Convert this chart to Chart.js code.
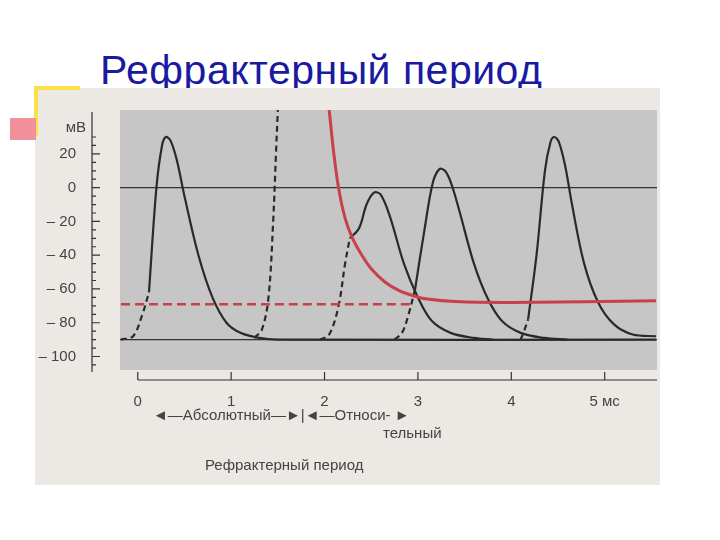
<!DOCTYPE html>
<html><head><meta charset="utf-8">
<script src="https://cdn.jsdelivr.net/npm/chart.js@4"></script>
<style>
body{margin:0;background:#fff;width:720px;height:540px;overflow:hidden;font-family:"Liberation Sans",Arial,sans-serif}
#title{position:absolute;left:100px;top:50px;font-size:41px;color:#1a1aa0;font-family:"Liberation Sans",Arial,sans-serif;line-height:1;letter-spacing:0.5px}
#wrap{position:absolute;left:0;top:0;width:720px;height:540px;z-index:2}
.lbl{position:absolute;font-size:15px;color:#444;font-family:"Liberation Sans",Arial,sans-serif;z-index:3}
</style></head><body>
<div id="title">Рефрактерный период</div>
<div id="wrap"><canvas id="c" width="720" height="540"></canvas></div>
<div class="lbl" style="left:153px;top:406px">◄—Абсолютный—►|◄—Относи- ►</div>
<div class="lbl" style="left:383px;top:424px">тельный</div>
<div class="lbl" style="left:205px;top:456px">Рефрактерный период</div>
<script>
const xTicks=[0,1,2,3,4,5];
const yTicks=[-100,-80,-60,-40,-20,0,20];
const ap1Rise=[{x:-0.18,y:-90},{x:-0.05,y:-88},{x:0.05,y:-75},{x:0.12,y:-62}];
const ap1=[{x:0.12,y:-62},{x:0.2,y:0},{x:0.26,y:25},{x:0.3,y:30},{x:0.35,y:28},{x:0.42,y:16},{x:0.5,y:-5},{x:0.65,y:-40},{x:0.8,y:-65},{x:0.95,y:-80},{x:1.1,y:-86},{x:1.3,y:-89},{x:1.5,y:-90},{x:5.55,y:-90}];
const stim=[{x:1.25,y:-89},{x:1.33,y:-84},{x:1.4,y:-65},{x:1.45,y:-20},{x:1.48,y:20},{x:1.5,y:46}];
const ap2Rise=[{x:1.95,y:-90},{x:2.05,y:-87},{x:2.15,y:-70},{x:2.22,y:-45},{x:2.27,y:-30}];
const ap2=[{x:2.27,y:-30},{x:2.37,y:-24},{x:2.45,y:-10},{x:2.53,y:-3},{x:2.6,y:-4},{x:2.7,y:-17},{x:2.85,y:-45},{x:3.0,y:-65},{x:3.15,y:-79},{x:3.35,y:-86},{x:3.6,y:-89},{x:3.8,y:-90}];
const ap3Rise=[{x:2.75,y:-90},{x:2.83,y:-86},{x:2.9,y:-75},{x:2.97,y:-60}];
const ap3=[{x:2.97,y:-60},{x:3.07,y:-25},{x:3.16,y:3},{x:3.23,y:11},{x:3.29,y:10},{x:3.36,y:2},{x:3.45,y:-15},{x:3.6,y:-45},{x:3.75,y:-66},{x:3.9,y:-79},{x:4.1,y:-86},{x:4.35,y:-89},{x:4.6,y:-90}];
const ap4Rise=[{x:4.1,y:-90},{x:4.13,y:-86},{x:4.18,y:-78}];
const ap4=[{x:4.18,y:-78},{x:4.27,y:-40},{x:4.36,y:10},{x:4.42,y:27},{x:4.46,y:30},{x:4.51,y:27},{x:4.58,y:12},{x:4.65,y:-10},{x:4.78,y:-45},{x:4.93,y:-68},{x:5.1,y:-81},{x:5.3,y:-87},{x:5.55,y:-88}];
const thrDash=[{x:-0.18,y:-69},{x:2.95,y:-69}];
const thr=[{x:2.05,y:46},{x:2.1,y:20},{x:2.15,y:0},{x:2.22,y:-18},{x:2.3,y:-30},{x:2.4,y:-40},{x:2.5,y:-48},{x:2.65,y:-56},{x:2.8,y:-61},{x:2.95,y:-64},{x:3.1,y:-66},{x:3.4,y:-67.5},{x:4.0,y:-68},{x:5.55,y:-67}];
const K='#2a2a2a',R='#c8404a';
function ds(d,c,w,dash){return {data:d,borderColor:c,borderWidth:w,borderDash:dash||[],pointRadius:0,tension:0.35,fill:false};}
const bg={id:'bg',beforeDraw(ch){const c=ch.ctx,a=ch.chartArea;c.save();
c.fillStyle='#ece8e4';c.fillRect(35,88,625,397);
c.fillStyle='#fbe04a';c.fillRect(34,86,4,50);c.fillRect(34,86,46,4);
c.fillStyle='#f0909a';c.fillRect(10,118,26,22);
c.fillStyle='#c6c6c6';c.fillRect(a.left,a.top,a.right-a.left,a.bottom-a.top);
const xs=ch.scales.x,ys=ch.scales.y;c.strokeStyle='#333';c.lineWidth=1.2;
c.beginPath();c.moveTo(a.left,ys.getPixelForValue(0));c.lineTo(a.right,ys.getPixelForValue(0));
c.moveTo(a.left,ys.getPixelForValue(-90));c.lineTo(a.right,ys.getPixelForValue(-90));c.stroke();
c.beginPath();c.moveTo(138,380);c.lineTo(657,380);
xTicks.forEach(v=>{const p=xs.getPixelForValue(v);c.moveTo(p,372);c.lineTo(p,380);});
c.moveTo(92,112);c.lineTo(92,372);
for(let v=-105;v<=30;v+=5){const p=ys.getPixelForValue(v);c.moveTo(92,p);c.lineTo(v%20===0?100:96,p);}
c.stroke();
c.fillStyle='#444';c.font='15px "Liberation Sans",Arial';c.textAlign='right';c.fillText('мВ',86,132);
c.restore();}};
new Chart(document.getElementById('c'),{type:'line',
data:{datasets:[ds(thrDash,R,2.5,[9,5]),ds(thr,R,3),ds(ap1Rise,K,2.2,[6,4]),ds(ap1,K,2.2),ds(stim,K,2.2,[6,4]),ds(ap2Rise,K,2.2,[6,4]),ds(ap2,K,2.2),ds(ap3Rise,K,2.2,[6,4]),ds(ap3,K,2.2),ds(ap4Rise,K,2.2,[6,4]),ds(ap4,K,2.2)]},
options:{responsive:false,animation:false,clip:true,
layout:{padding:{left:0,right:63,top:110,bottom:0}},
plugins:{legend:{display:false},tooltip:{enabled:false}},
scales:{x:{type:'linear',min:-0.19,max:5.56,afterFit(s){s.height=170;},
 afterBuildTicks(s){s.ticks=xTicks.map(v=>({value:v}));},
 grid:{display:false},border:{display:false},
 ticks:{padding:15,color:'#444',font:{size:15,family:'"Liberation Sans",Arial'},callback:v=>v===5?'5 мс':String(v)}},
 y:{min:-108,max:46,afterFit(s){s.width=120;},
 afterBuildTicks(s){s.ticks=yTicks.map(v=>({value:v}));},
 grid:{display:false},border:{display:false},
 ticks:{padding:36,color:'#444',font:{size:15,family:'"Liberation Sans",Arial'},callback:v=>v<0?'– '+(-v):String(v)}}}},
plugins:[bg]});
</script></body></html>
